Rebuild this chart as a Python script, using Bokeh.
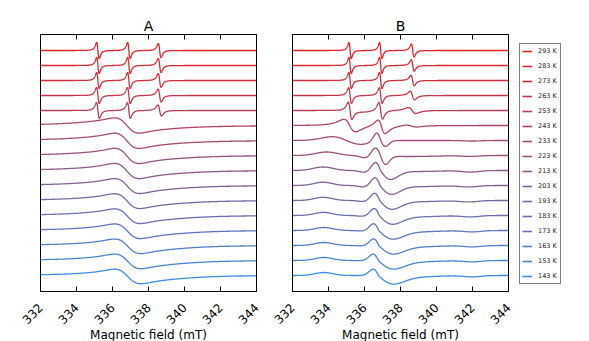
import math
import numpy as np
from bokeh.plotting import figure
from bokeh.layouts import row
from bokeh.models import Range1d, FixedTicker, LinearAxis, Legend, LegendItem
from bokeh.embed import file_html
from bokeh.resources import INLINE

# ---------------- data ----------------
temps = [293, 283, 273, 263, 253, 243, 233, 223, 213, 203, 193, 183, 173, 163, 153, 143]
labels = [f"{t} K" for t in temps]
x_ticks = [332, 334, 336, 338, 340, 342, 344]
panel_titles = ["A", "B"]
x_label = "Magnetic field (mT)"
trace_step = 15.0   # vertical offset between successive spectra

# Spectral components, one sub-list per temperature.
# kinds: L = Lorentzian derivative, G = Gaussian derivative,
#        GL / GR = low-/high-field lobe of a Gaussian derivative, A = absorption-like band
# width = peak-to-peak width (mT) (A: 2*sigma), amp = peak height in offset units
A_kind = [
    ["L", "L", "L"], ["L", "L", "L"], ["L", "L", "L"], ["L", "L", "L"], ["L", "L", "L"],
    ["L", "L"], ["L", "L", "A"], ["L", "L", "A"], ["L", "L", "A"], ["L", "L", "A"],
    ["L", "L", "A"], ["L", "L", "A"], ["L", "L", "A"], ["L", "L", "A"], ["L", "L", "A"],
    ["L", "L", "A"],
]
A_center = [
    [335.19, 336.91, 338.62], [335.19, 336.91, 338.62], [335.19, 336.91, 338.62],
    [335.19, 336.91, 338.62], [335.19, 336.91, 338.62],
    [336.8, 336.8], [336.8, 336.8, 338.5], [336.8, 336.8, 338.5], [336.8, 336.8, 338.5],
    [336.82, 336.82, 338.5], [336.82, 336.82, 338.5], [336.83, 336.83, 338.5],
    [336.84, 336.84, 338.5], [336.85, 336.85, 338.5], [336.85, 336.85, 338.5],
    [336.85, 336.85, 338.5],
]
A_width = [
    [0.14, 0.14, 0.15], [0.14, 0.14, 0.16], [0.14, 0.14, 0.16], [0.15, 0.15, 0.17],
    [0.16, 0.16, 0.20],
    [1.2, 3.5], [1.2, 3.5, 3.6], [1.2, 3.5, 3.6], [1.22, 3.5, 3.6], [1.24, 3.5, 3.6],
    [1.25, 3.5, 3.6], [1.26, 3.5, 3.6], [1.28, 3.5, 3.6], [1.3, 3.5, 3.6], [1.3, 3.5, 3.6],
    [1.3, 3.5, 3.6],
]
A_amp = [
    [8.0, 8.0, 7.0], [8.0, 8.0, 7.0], [8.0, 8.0, 6.8], [8.0, 8.0, 6.5], [7.8, 7.8, 5.5],
    [6.1, 2.5], [6.2, 2.2, -0.5], [6.2, 2.1, -0.7], [6.2, 2.0, -0.8], [6.1, 1.9, -0.9],
    [6.1, 1.8, -1.0], [6.0, 1.8, -1.1], [6.0, 1.7, -1.2], [6.0, 1.6, -1.3], [6.0, 1.6, -1.4],
    [6.0, 1.5, -1.5],
]

S6 = ["A", "A", "GL", "GR", "A", "A"]
B_kind = [
    ["L", "L", "L"], ["L", "L", "L"], ["L", "L", "L"], ["L", "L", "L"], ["L", "L", "L", "A"],
    ["L", "L", "L", "A"], ["G", "GL", "GR", "A"],
    S6, S6, S6, S6, S6, S6, S6, S6, ["A", "GL", "GR", "A", "A"],
]
B_center = [
    [335.2, 336.9, 338.68], [335.2, 336.9, 338.68], [335.2, 336.9, 338.67],
    [335.2, 336.9, 338.66], [335.2, 336.9, 338.65, 336.05],
    [335.18, 336.95, 338.6, 337.0], [335.0, 336.92, 336.92, 342.0],
    [333.9, 336.1, 336.9, 336.9, 338.5, 341.9],
    [333.7, 336.05, 336.9, 336.9, 339.0, 341.9],
    [333.7, 336.0, 336.87, 336.87, 339.0, 341.8],
    [333.7, 336.0, 336.85, 336.85, 339.0, 341.8],
    [333.72, 335.95, 336.83, 336.83, 339.0, 341.9],
    [333.74, 335.9, 336.8, 336.8, 339.0, 342.0],
    [333.75, 335.9, 336.8, 336.8, 339.0, 342.0],
    [333.75, 335.9, 336.78, 336.78, 339.0, 342.0],
    [333.75, 336.78, 336.78, 339.0, 342.0],
]
B_width = [
    [0.13, 0.13, 0.15], [0.13, 0.13, 0.16], [0.14, 0.14, 0.18], [0.16, 0.16, 0.24],
    [0.20, 0.20, 0.40, 1.0],
    [0.65, 0.40, 0.60, 2.0], [1.6, 0.5, 0.5, 1.0],
    [1.2, 0.6, 0.6, 0.55, 3.0, 1.0],
    [1.1, 0.6, 0.6, 1.1, 2.4, 1.0],
    [1.0, 0.6, 0.6, 1.25, 2.4, 1.0],
    [1.0, 0.6, 0.6, 1.35, 2.4, 1.0],
    [1.0, 0.6, 0.6, 1.45, 2.4, 1.0],
    [1.0, 0.6, 0.6, 1.55, 2.4, 1.0],
    [1.0, 0.6, 0.6, 1.6, 2.4, 1.0],
    [1.0, 0.6, 0.6, 1.65, 2.4, 1.0],
    [1.0, 0.6, 1.65, 2.4, 1.0],
]
B_amp = [
    [8.0, 8.0, 6.5], [8.0, 8.0, 5.8], [8.0, 8.0, 5.2], [7.8, 7.8, 4.3],
    [8.5, 8.5, 3.0, -1.5],
    [6.2, 7.0, 1.2, -1.0], [3.8, 8.8, 5.5, -0.5],
    [3.5, -2.5, 8.5, 8.3, -1.0, -0.8],
    [3.5, -2.0, 8.5, 8.5, -1.0, -1.5],
    [3.3, -1.6, 8.0, 8.4, -1.1, -1.4],
    [3.2, -1.2, 7.6, 8.3, -1.1, -1.4],
    [3.1, -0.9, 7.2, 8.2, -1.2, -1.3],
    [3.0, -0.6, 7.0, 8.1, -1.2, -1.3],
    [3.0, -0.4, 6.8, 8.0, -1.2, -1.3],
    [3.0, -0.2, 6.6, 8.0, -1.2, -1.3],
    [3.0, 6.5, 8.0, -1.2, -1.3],
]

colors = ["#e82024", "#dd2731", "#d12e3d", "#c6364a", "#ba3d56", "#af4463", "#a34b70", "#98527c",
          "#8c5a89", "#816195", "#7568a2", "#6a6faf", "#5e76bb", "#537ec8", "#4785d4", "#3c8ce1"]

FONT = "DejaVu Sans"
field = np.linspace(332, 344, 2401)


def component(x, kind, c, w, a):
    if kind == "L":
        g = w * math.sqrt(3) / 2
        u = (x - c) / g
        return -a * u / (1 + u * u) ** 2 / (9 / (16 * math.sqrt(3)))
    if kind in ("G", "GL", "GR"):
        s = w / 2
        u = (x - c) / s
        y = -a * u * np.exp((1 - u * u) / 2)
        if kind == "GL":
            y = np.where(x < c, y, 0.0)
        elif kind == "GR":
            y = np.where(x >= c, y, 0.0)
        return y
    s = w / 2
    return a * np.exp(-0.5 * ((x - c) / s) ** 2)


def spectrum(kinds, centers, widths, amps):
    y = np.zeros_like(field)
    for k, c, w, a in zip(kinds, centers, widths, amps):
        y = y + component(field, k, c, w, a)
    return y


def make_panel(title, kinds, centers, widths, amps, left, right):
    p = figure(frame_width=216, frame_height=257, title=title,
               x_range=Range1d(332, 344), y_range=Range1d(-16, 241),
               output_backend="svg", toolbar_location=None,
               min_border_left=left, min_border_right=right,
               min_border_top=34, min_border_bottom=50)
    p.title.align = "center"
    p.title.text_font = FONT
    p.title.text_font_size = "14px"
    p.title.text_font_style = "normal"
    p.title.text_color = "black"
    p.title.standoff = 2
    p.grid.visible = False
    p.yaxis.visible = False
    p.outline_line_color = "black"
    p.outline_line_width = 1
    p.background_fill_color = "white"
    p.border_fill_color = "white"

    ax = p.xaxis[0]
    ax.ticker = FixedTicker(ticks=x_ticks)
    ax.major_label_orientation = math.pi / 4
    ax.major_label_text_align = "center"
    ax.major_label_text_baseline = "middle"
    ax.major_label_text_font = FONT
    ax.major_label_text_font_size = "12px"
    ax.major_label_text_color = "black"
    ax.major_label_standoff = 14
    ax.major_tick_in = 5
    ax.major_tick_out = 0
    ax.minor_tick_line_color = None
    ax.axis_line_color = "black"
    ax.major_tick_line_color = "black"
    ax.axis_label = x_label
    ax.axis_label_text_font = FONT
    ax.axis_label_text_font_size = "12px"
    ax.axis_label_text_font_style = "normal"
    ax.axis_label_text_color = "black"
    ax.axis_label_standoff = -3

    top = LinearAxis(ticker=FixedTicker(ticks=x_ticks))
    top.major_label_text_font_size = "0px"
    top.major_label_text_color = None
    top.major_label_standoff = 0
    top.major_tick_in = 5
    top.major_tick_out = 0
    top.minor_tick_line_color = None
    top.axis_line_color = "black"
    top.major_tick_line_color = "black"
    p.add_layout(top, "above")

    rends = []
    n = len(temps)
    for i in range(n):
        y = spectrum(kinds[i], centers[i], widths[i], amps[i]) + (n - 1 - i) * trace_step
        r = p.line(field, y, line_color=colors[i], line_width=1.3)
        rends.append(r)
    return p, rends


pA, _ = make_panel(panel_titles[0], A_kind, A_center, A_width, A_amp, 40, 16)
pB, _ = make_panel(panel_titles[1], B_kind, B_center, B_width, B_amp, 20, 11)

# legend panel: one-point placeholder lines (draw nothing) that only carry the colour keys
pL = figure(width=68, height=341, x_range=Range1d(0, 1), y_range=Range1d(0, 1),
            x_axis_location=None, y_axis_location=None,
            output_backend="svg", toolbar_location=None,
            min_border_left=0, min_border_right=0, min_border_top=0, min_border_bottom=0)
pL.grid.visible = False
pL.outline_line_color = None
pL.background_fill_color = "white"
pL.border_fill_color = "white"
key_renderers = [pL.line(x=[0.5], y=[0.5], line_color=colors[i], line_width=1.6)
                 for i in range(len(temps))]
legend = Legend(items=[LegendItem(label=labels[i], renderers=[key_renderers[i]]) for i in range(len(temps))],
                location=(0, 3), margin=0, padding=2, spacing=5,
                glyph_width=10, glyph_height=10, label_height=10, label_standoff=6,
                label_text_font=FONT, label_text_font_size="6.5px", label_text_color="#222222",
                border_line_color="black", border_line_width=1, background_fill_color="white")
pL.add_layout(legend)

layout = row(pA, pB, pL)
open("out.html", "w").write(file_html(layout, INLINE))
